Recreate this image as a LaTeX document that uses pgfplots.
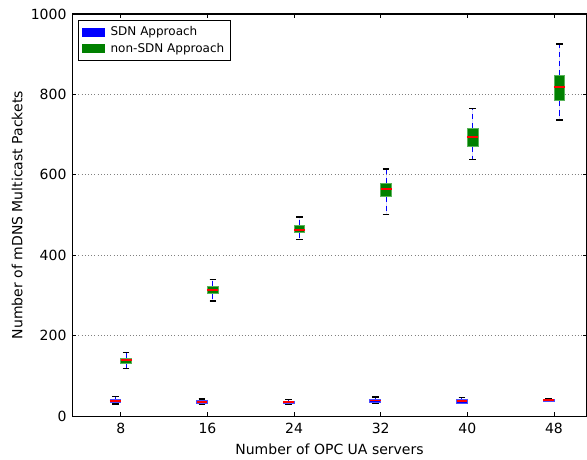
\documentclass[border=0pt]{standalone}
\usepackage{fontspec}
\setmainfont{DejaVu Sans}
\usepackage{pgfplots}
\pgfplotsset{compat=1.18}
\usepgfplotslibrary{statistics}
\definecolor{mplgreen}{RGB}{0,128,0}
\definecolor{mplgreenedge}{RGB}{90,180,90}
\begin{document}
\fontsize{10.5}{12}\selectfont
\begin{tikzpicture}
\begin{axis}[
 scale only axis, width=386pt, height=301.5pt,
 xmin=3.5, xmax=51.05, ymin=0, ymax=1000,
 xtick={8,16,24,32,40,48}, ytick={0,200,400,600,800,1000},
 ymajorgrids, grid style={dotted, gray, line width=0.7pt},
 tick align=inside, major tick length=3pt,
 tick style={black, line width=0.6pt},
 axis line style={line width=0.8pt},
 /pgf/number format/assume math mode=true,
 /pgf/number format/1000 sep={},
 ticklabel style={font=\fontsize{10.5}{12}\selectfont},
 yticklabel style={xshift=-0.5pt},
 xticklabel style={yshift=-1.5pt},
 xlabel={Number of OPC UA servers}, ylabel={Number of mDNS Multicast Packets},
 label style={font=\fontsize{10.5}{12}\selectfont},
 xlabel style={yshift=-0.5pt},
 ylabel style={yshift=-1pt},
 legend style={at={(rel axis cs:0.0117,0.985)}, anchor=north west, font=\fontsize{9}{10}\selectfont, draw=black, line width=0.6pt, inner sep=2.5pt, row sep=0pt, column sep=2pt},
 legend cell align=left,
 boxplot/draw direction=y,
 boxplot/box extend=1,
 boxplot/whisker extend=0.6,
 boxplot/every median/.style={red, line width=1.4pt},
 boxplot/draw/lower whisker/.code={%
   \draw[blue, line width=0.75pt, dash pattern=on 4pt off 3pt]
     (boxplot box cs:\pgfplotsboxplotvalue{lower quartile},0.5) -- (boxplot box cs:\pgfplotsboxplotvalue{lower whisker},0.5);
   \draw[black, line width=1.1pt]
     (boxplot whisker cs:\pgfplotsboxplotvalue{lower whisker},0) -- (boxplot whisker cs:\pgfplotsboxplotvalue{lower whisker},1);
 },
 boxplot/draw/upper whisker/.code={%
   \draw[blue, line width=0.75pt, dash pattern=on 4pt off 3pt]
     (boxplot box cs:\pgfplotsboxplotvalue{upper quartile},0.5) -- (boxplot box cs:\pgfplotsboxplotvalue{upper whisker},0.5);
   \draw[black, line width=1.1pt]
     (boxplot whisker cs:\pgfplotsboxplotvalue{upper whisker},0) -- (boxplot whisker cs:\pgfplotsboxplotvalue{upper whisker},1);
 },
]
\addlegendimage{legend image code/.code={\fill[blue] (0pt,-3pt) rectangle (17pt,3pt);}}
\addlegendentry{SDN Approach}
\addlegendimage{legend image code/.code={\fill[mplgreen] (0pt,-3pt) rectangle (17pt,3pt);}}
\addlegendentry{non-SDN Approach}

% SDN Approach
\addplot[forget plot, fill=blue, draw=blue!70, line width=0.6pt, boxplot prepared={draw position=7.5, lower whisker=30, lower quartile=34, median=38, upper quartile=42, upper whisker=49}] coordinates {};
\addplot[forget plot, fill=blue, draw=blue!70, line width=0.6pt, boxplot prepared={draw position=15.5, lower whisker=30, lower quartile=33, median=36, upper quartile=39, upper whisker=43}] coordinates {};
\addplot[forget plot, fill=blue, draw=blue!70, line width=0.6pt, boxplot prepared={draw position=23.5, lower whisker=30, lower quartile=33, median=36, upper quartile=38, upper whisker=42}] coordinates {};
\addplot[forget plot, fill=blue, draw=blue!70, line width=0.6pt, boxplot prepared={draw position=31.5, lower whisker=32, lower quartile=35, median=39, upper quartile=42, upper whisker=48}] coordinates {};
\addplot[forget plot, fill=blue, draw=blue!70, line width=0.6pt, boxplot prepared={draw position=39.5, lower whisker=31, lower quartile=33, median=37, upper quartile=41, upper whisker=47}] coordinates {};
\addplot[forget plot, fill=blue, draw=blue!70, line width=0.6pt, boxplot prepared={draw position=47.5, lower whisker=37, lower quartile=38, median=40, upper quartile=41, upper whisker=43}] coordinates {};

% non-SDN Approach
\addplot[forget plot, fill=mplgreen, draw=mplgreenedge, line width=0.6pt, boxplot prepared={draw position=8.5, lower whisker=119, lower quartile=131, median=139, upper quartile=145, upper whisker=159}] coordinates {};
\addplot[forget plot, fill=mplgreen, draw=mplgreenedge, line width=0.6pt, boxplot prepared={draw position=16.5, lower whisker=286, lower quartile=305, median=313, upper quartile=323, upper whisker=340}] coordinates {};
\addplot[forget plot, fill=mplgreen, draw=mplgreenedge, line width=0.6pt, boxplot prepared={draw position=24.5, lower whisker=440, lower quartile=456, median=464, upper quartile=474, upper whisker=495}] coordinates {};
\addplot[forget plot, fill=mplgreen, draw=mplgreenedge, line width=0.6pt, boxplot prepared={draw position=32.5, lower whisker=501, lower quartile=546, median=565, upper quartile=579, upper whisker=615}] coordinates {};
\addplot[forget plot, fill=mplgreen, draw=mplgreenedge, line width=0.6pt, boxplot prepared={draw position=40.5, lower whisker=638, lower quartile=671, median=695, upper quartile=716, upper whisker=765}] coordinates {};
\addplot[forget plot, fill=mplgreen, draw=mplgreenedge, line width=0.6pt, boxplot prepared={draw position=48.5, lower whisker=736, lower quartile=784, median=818, upper quartile=847, upper whisker=925}] coordinates {};
\end{axis}
\pgfresetboundingbox
\path ([xshift=-54pt,yshift=10.5pt]current axis.north west) rectangle ([yshift=-32.25pt]current axis.south east);
\end{tikzpicture}
\end{document}
